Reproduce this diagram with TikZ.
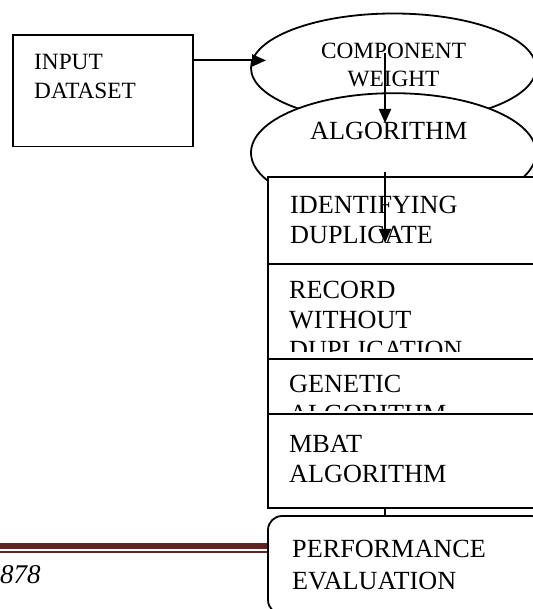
\documentclass[tikz,border=0pt]{standalone}
\usepackage{fontspec}
\setmainfont{Liberation Serif}
\usetikzlibrary{shapes.geometric,arrows.meta}
\definecolor{maroonrule}{HTML}{622423}
\begin{document}
\begin{tikzpicture}[x=1pt,y=-1pt,
  shapeline/.style={draw=black,line width=1.8pt,fill=white,inner sep=0pt,outer sep=0pt},
  boxshape/.style={shapeline,rectangle,anchor=north west,minimum width=277pt},
  smalltext/.style={inner sep=0pt,anchor=base west,font=\fontsize{23.3}{28}\selectfont},
  bigtext/.style={inner sep=0pt,anchor=base west,font=\fontsize{26.2}{30}\selectfont},
  flow/.style={line width=2pt,-{Triangle[length=14pt,width=12pt]}}]
\useasboundingbox (0,0) rectangle (532,609);

% ellipses
\node[shapeline,ellipse,minimum width=285pt,minimum height=109pt] (comp) at (393.5,68) {};
\node[shapeline,ellipse,minimum width=285pt,minimum height=119pt] (algo) at (393.5,152.7) {};

% input box
\node[shapeline,rectangle,anchor=north west,minimum width=180pt,minimum height=111.6pt] (input) at (13,35) {};

% maroon rule
\coordinate (ruleA) at (0,546);
\coordinate (ruleB) at (0,552.2);
\coordinate (ruleEnd) at (268,0);
\draw[maroonrule,line width=6.6pt] (ruleA) -- (ruleA -| ruleEnd);
\draw[maroonrule,line width=2.3pt] (ruleB) -- (ruleB -| ruleEnd);

% stacked boxes
\node[boxshape,minimum height=87pt] (ident) at (268,177) {};
\node[boxshape,minimum height=95pt] (record) at (268,264) {};
\node[boxshape,minimum height=55pt] (genetic) at (268,359) {};
\node[boxshape,minimum height=94pt] (mbat) at (268,414) {};
\node[boxshape,rounded corners=14pt,minimum height=98pt] (perf) at (268,516) {};

% texts
\node[smalltext] (tInput) at (34,69.6) {INPUT};
\node[smalltext] (tDataset) at (34,98.4) {DATASET};
\node[smalltext,anchor=base] (tComp) at (393.5,58.3) {COMPONENT};
\node[smalltext,anchor=base] (tWeight) at (393.5,86.7) {WEIGHT};
\node[bigtext] (tAlgo) at (310,140) {ALGORITHM};
\node[bigtext] (tIdent) at (290,213.3) {IDENTIFYING};
\node[bigtext] (tDup) at (290,243.3) {DUPLICATE};
\node[bigtext] (tRecord) at (289,298) {RECORD};
\node[bigtext] (tWithout) at (289,328) {WITHOUT};
\begin{scope}
  \clip (268,264) rectangle (545,351);
  \node[bigtext] (tDuplication) at (289,358) {DUPLICATION};
\end{scope}
\node[bigtext] (tGenetic) at (289,392.6) {GENETIC};
\begin{scope}
  \clip (268,359) rectangle (545,410);
  \node[bigtext] (tGenAlgo) at (289,422.6) {ALGORITHM};
\end{scope}
\node[bigtext] (tMbat) at (289,452) {MBAT};
\node[bigtext] (tMbatAlgo) at (289,482.5) {ALGORITHM};
\node[bigtext] (tPerf) at (292,557) {PERFORMANCE};
\node[bigtext] (tEval) at (292,589.4) {EVALUATION};
\node[inner sep=0pt,anchor=base west,font=\fontsize{27}{30}\selectfont\itshape] (tPage) at (0,583.3) {878};

% connectors
\coordinate (inA) at (0,60.4);
\coordinate (inTip) at (266,60.4);
\coordinate (v1s) at (385,53);
\coordinate (v1e) at (385,123);
\coordinate (v2s) at (385,172);
\coordinate (v2e) at (385,243);
\coordinate (tickx) at (385,0);
\draw[flow] (input.east |- inA) -- (inTip);
\draw[flow] (v1s) -- (v1e);
\draw[flow] (v2s) -- (v2e);
\draw[line width=1.8pt] (mbat.south -| tickx) -- (perf.north -| tickx);
\end{tikzpicture}
\end{document}
